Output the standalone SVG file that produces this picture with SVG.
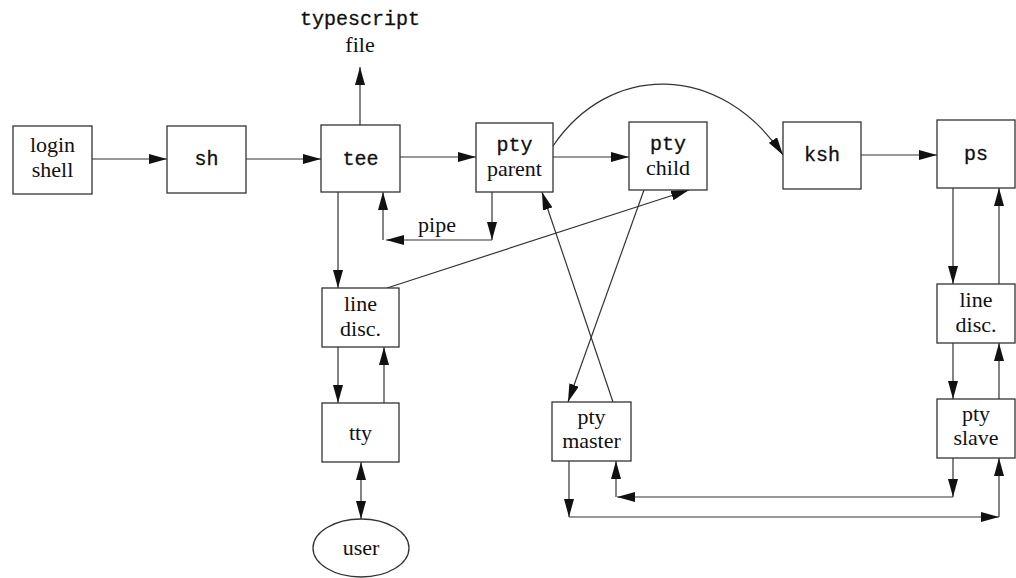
<svg xmlns="http://www.w3.org/2000/svg" width="1016" height="578" viewBox="0 0 1016 578">
<defs>
<marker id="ah" markerUnits="userSpaceOnUse" markerWidth="18" markerHeight="10" refX="18" refY="5" orient="auto">
<path d="M0,0 L18,5 L0,10 z" fill="#111"/>
</marker>
<marker id="ahs" markerUnits="userSpaceOnUse" markerWidth="18" markerHeight="10" refX="0" refY="5" orient="auto">
<path d="M18,0 L0,5 L18,10 z" fill="#111"/>
</marker>
<style>
.box{fill:#fff;stroke:#333;stroke-width:1.3}
.ln{fill:none;stroke:#333;stroke-width:1.2}
.a{marker-end:url(#ah)}
.serif{font-family:"Liberation Serif","Times New Roman",serif;font-size:22px;fill:#111;text-anchor:middle}
.mono{font-family:"Liberation Mono","Courier New",monospace;font-size:20px;fill:#111;text-anchor:middle;stroke:#111;stroke-width:0.3}
</style>
</defs>
<rect width="1016" height="578" fill="#fff"/>
<g id="connectors">
<line class="ln a" x1="92" y1="159" x2="167" y2="159"/>
<line class="ln a" x1="246" y1="159" x2="321" y2="159"/>
<line class="ln a" x1="360" y1="125" x2="360" y2="67"/>
<line class="ln a" x1="400" y1="157" x2="476" y2="157"/>
<line class="ln a" x1="553" y1="157" x2="629" y2="157"/>
<path class="ln a" d="M553,146 C610,62 720,62 783,155"/>
<line class="ln a" x1="861" y1="155" x2="937" y2="155"/>
<line class="ln a" x1="953" y1="188" x2="953" y2="284"/>
<line class="ln a" x1="999" y1="284" x2="999" y2="188"/>
<line class="ln a" x1="953" y1="343" x2="953" y2="399"/>
<line class="ln a" x1="999" y1="399" x2="999" y2="343"/>
<line class="ln a" x1="338" y1="192" x2="338" y2="288"/>
<line class="ln a" x1="338" y1="347" x2="338" y2="403"/>
<line class="ln a" x1="384" y1="403" x2="384" y2="347"/>
<line class="ln a" x1="361" y1="462" x2="361" y2="519" style="marker-start:url(#ahs)"/>
<line class="ln a" x1="492" y1="192" x2="492" y2="240"/>
<line class="ln a" x1="492" y1="240" x2="386" y2="240"/>
<line class="ln a" x1="383" y1="240" x2="383" y2="192"/>
<line class="ln a" x1="387" y1="288" x2="689" y2="190"/>
<line class="ln a" x1="613" y1="402" x2="542" y2="192"/>
<line class="ln a" x1="644" y1="190" x2="568" y2="402"/>
<line class="ln a" x1="953" y1="458" x2="953" y2="497"/>
<line class="ln a" x1="953" y1="497" x2="617" y2="497"/>
<line class="ln a" x1="616" y1="497" x2="616" y2="461"/>
<line class="ln a" x1="569" y1="461" x2="569" y2="517"/>
<line class="ln a" x1="569" y1="517" x2="999" y2="517"/>
<line class="ln a" x1="999" y1="517" x2="999" y2="458"/>
<text class="serif" x="437" y="232">pipe</text>
</g>
<g id="typescript">
<text class="mono" x="360" y="25">typescript</text>
<text class="serif" x="360" y="52">file</text>
</g>
<g id="login"><rect class="box" x="13" y="126" width="79" height="68"/><text class="serif" x="52.5" y="152">login</text><text class="serif" x="52.5" y="177">shell</text></g>
<g id="sh"><rect class="box" x="167" y="126" width="79" height="67"/><text class="mono" x="206.5" y="165">sh</text></g>
<g id="tee"><rect class="box" x="321" y="125" width="79" height="67"/><text class="mono" x="360.5" y="165">tee</text></g>
<g id="ptyparent"><rect class="box" x="476" y="123" width="77" height="69"/><text class="mono" x="514.5" y="151">pty</text><text class="serif" x="514.5" y="176">parent</text></g>
<g id="ptychild"><rect class="box" x="629" y="122" width="78" height="68"/><text class="mono" x="668" y="150">pty</text><text class="serif" x="668" y="175">child</text></g>
<g id="ksh"><rect class="box" x="783" y="122" width="78" height="67"/><text class="mono" x="822" y="161">ksh</text></g>
<g id="ps"><rect class="box" x="937" y="120" width="78" height="68"/><text class="mono" x="976" y="160">ps</text></g>
<g id="linediscL"><rect class="box" x="322" y="288" width="77" height="59"/><text class="serif" x="360.5" y="311">line</text><text class="serif" x="360.5" y="336">disc.</text></g>
<g id="tty"><rect class="box" x="322" y="403" width="77" height="59"/><text class="serif" x="360.5" y="440">tty</text></g>
<g id="user"><ellipse class="box" cx="361" cy="548" rx="48" ry="29"/><text class="serif" x="361" y="555">user</text></g>
<g id="ptymaster"><rect class="box" x="552" y="402" width="79" height="59"/><text class="serif" x="591.5" y="424">pty</text><text class="serif" x="591.5" y="448">master</text></g>
<g id="linediscR"><rect class="box" x="937" y="284" width="78" height="59"/><text class="serif" x="976" y="307">line</text><text class="serif" x="976" y="332">disc.</text></g>
<g id="ptyslave"><rect class="box" x="937" y="399" width="78" height="59"/><text class="serif" x="976" y="421">pty</text><text class="serif" x="976" y="445">slave</text></g>
</svg>
